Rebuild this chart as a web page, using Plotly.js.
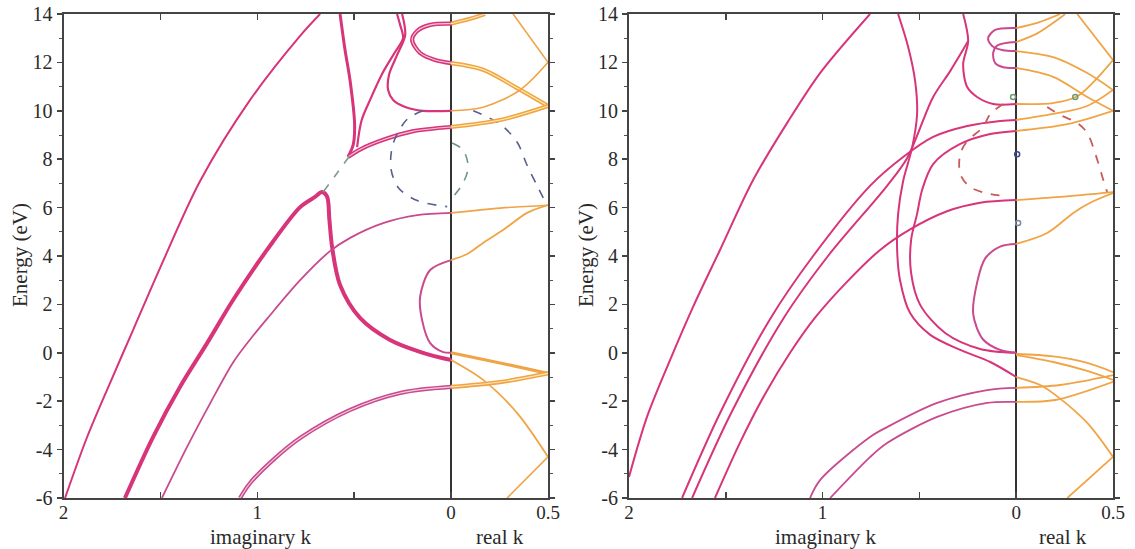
<!DOCTYPE html>
<html><head><meta charset="utf-8">
<script src="https://cdn.plot.ly/plotly-3.0.1.min.js"></script>
<style>html,body{margin:0;padding:0;background:#fff}#chart{width:1135px;height:549px}</style>
</head><body><div id="chart"></div>
<script>
// ---------- tick labels ----------
const xTickVals = [-2,-1.5,-1,-0.5,0,0.5];
const xTickText = ['2','','1','','0','0.5'];
const yTickVals = [-6,-4,-2,0,2,4,6,8,10,12,14];
const yTickText = ['-6','-4','-2','0','2','4','6','8','10','12','14'];

// ---------- left panel: imaginary k (negative = imaginary) ----------
const A_outer_k = [-1.992,-1.879,-1.760,-1.641,-1.502,-1.295,-1.037,-0.779,-0.676];
const A_outer_E = [-6,-3.5,-1.25,0.94,3.5,7.1,10.45,13.1,14];
const A_thick_k = [-1.683,-1.538,-1.399,-1.259,-1.125,-0.950,-0.779,-0.702,-0.666,-0.640,-0.628,-0.614,-0.573,-0.470,-0.315,-0.145,0];
const A_thick_E = [-6,-3.48,-1.41,0.40,2.18,4.25,6.02,6.44,6.64,6.45,5.5,4.37,2.80,1.44,0.53,0.0,-0.30];
const A_thin_k = [-1.492,-1.363,-1.244,-1.125,-1.037,-0.950,-0.779,-0.625,-0.521,-0.351,-0.175,0];
const A_thin_E = [-6,-3.9,-2.1,-0.4,0.55,1.4,3.0,4.2,4.75,5.36,5.69,5.78];
const A_low_k = [-1.089,-1.037,-0.908,-0.779,-0.521,-0.263,0];
const A_low_E = [-6,-5.38,-4.35,-3.52,-2.36,-1.66,-1.41];
const A_loop_k = [0,-0.108,-0.160,-0.150,-0.108,-0.041,0];
const A_loop_E = [3.83,3.42,2.31,1.36,0.40,0.03,0];
const A_arm_k = [-0.573,-0.547,-0.521,-0.498,-0.505,-0.532];
const A_arm_E = [14,12.5,11.23,9.45,8.6,8.09];
const A_flat_k = [-0.532,-0.47,-0.35,-0.2,0];
const A_flat_E = [8.09,8.4,8.8,9.15,9.33];
const A_c_k = [-0.485,-0.462,-0.418,-0.351,-0.289,-0.248,-0.263,-0.279];
const A_c_E = [8.5,9.6,10.45,11.6,12.43,13.0,13.55,14];
const A_d_k = [-0.253,-0.237,-0.279,-0.320,-0.325,-0.299,-0.237,-0.145,0];
const A_d_E = [14,13.13,12.3,11.5,10.86,10.45,10.16,10.0,10.0];
const A_eloop_k = [0,-0.108,-0.175,-0.201,-0.160,-0.083,0];
const A_eloop_E = [13.6,13.55,13.3,12.93,12.39,12.1,11.97];
// dashed
const A_g1_k = [-0.661,-0.588,-0.521];
const A_g1_E = [6.64,7.43,8.17];
const A_b1_k = [-0.145,-0.227,-0.299,-0.31,-0.27,-0.175,-0.02];
const A_b1_E = [10.0,9.65,8.65,7.6,6.8,6.29,6.04];
const A_b2_k = [0.114,0.253,0.341,0.392,0.444,0.485];
const A_b2_E = [10.0,9.45,8.7,7.75,6.9,6.25];
const A_g2_k = [0.005,0.062,0.088,0.062,0.01];
const A_g2_E = [8.67,8.38,7.68,7.02,6.44];
// orange (real k)
const A_oa_k = [0,0.098,0.175];          const A_oa_E = [13.6,13.8,14];
const A_ob_k = [0.32,0.5];               const A_ob_E = [14,12.0];
const A_oc_k = [0,0.165,0.341,0.5];      const A_oc_E = [11.97,11.7,10.94,10.2];
const A_od_k = [0,0.165,0.356,0.5];      const A_od_E = [10.0,10.15,10.86,12.0];
const A_oe_k = [0,0.253,0.5];            const A_oe_E = [9.33,9.62,10.2];
const A_of_k = [0,0.253,0.5];            const A_of_E = [5.78,5.98,6.1];
const A_og_k = [0,0.083,0.165,0.268,0.392,0.5]; const A_og_E = [3.83,4.08,4.54,5.07,5.78,6.1];
const A_oh_k = [0,0.253,0.5];            const A_oh_E = [0,-0.42,-0.85];
const A_oi_k = [0,0.165,0.341,0.5];      const A_oi_E = [-0.3,-1.12,-2.49,-4.3];
const A_oj_k = [0,0.253,0.5];            const A_oj_E = [-1.41,-1.21,-0.85];
const A_ok_k = [0.289,0.5];              const A_ok_E = [-6,-4.3];

// ---------- right panel ----------
const B_outer_k = [-2.0,-1.907,-1.788,-1.669,-1.530,-1.359,-1.183,-1.013,-0.755];
const B_outer_E = [-5.13,-2.65,-0.3,1.9,4.25,7.14,9.5,11.56,14];
const B_r2_k = [-1.726,-1.530,-1.271,-1.049,-0.755,-0.584,-0.429,-0.253,-0.083,0];
const B_r2_E = [-6,-2.5,1.4,4.0,6.9,8.09,8.92,9.37,9.58,9.62];
const B_r3_k = [-1.674,-1.473,-1.204,-0.972,-0.667,-0.563,-0.429,-0.341,-0.248];
const B_r3_E = [-6,-2.5,1.4,4.0,6.9,8.05,10.57,11.64,12.88];
const B_rd_k = [-0.274,-0.248,-0.274,-0.253,-0.202,-0.119,0];
const B_rd_E = [14,12.88,11.93,10.98,10.57,10.28,10.28];
const B_ra_k = [-0.610,-0.558,-0.522,-0.512,-0.537,-0.584,-0.610,-0.615,-0.600,-0.548,-0.444,-0.289,-0.134,0];
const B_ra_E = [14,12.64,11.23,9.87,8.5,7.1,5.74,4.25,3.0,1.64,0.74,0.12,-0.38,-1.0];
const B_rb_k = [0,-0.134,-0.289,-0.429,-0.486,-0.512,-0.543,-0.543,-0.496,-0.367,-0.186,0];
const B_rb_E = [9.17,9.04,8.63,7.8,6.73,5.74,4.66,3.3,1.98,0.82,0.16,0.0];
const B_r4_k = [-1.556,-1.426,-1.297,-1.168,-1.039,-0.884,-0.703,-0.548,-0.357,-0.186,0];
const B_r4_E = [-6,-3.7,-1.7,0.0,1.45,2.85,4.25,5.1,5.85,6.2,6.31];
const B_r6_k = [-1.065,-1.013,-0.755,-0.667,-0.408,-0.150,0];
const B_r6_E = [-6,-5.26,-3.48,-3.07,-2.07,-1.54,-1.45];
const B_r7_k = [-0.961,-0.755,-0.667,-0.408,-0.150,0];
const B_r7_E = [-6,-4.31,-3.73,-2.65,-2.07,-2.03];
const B_loop_k = [0,-0.08,-0.160,-0.202,-0.222,-0.171,-0.083,0];
const B_loop_E = [4.5,4.4,3.9,2.9,1.6,0.55,0.12,0.0];
const B_l1_k = [0,-0.109,-0.145,-0.124,-0.067,0];
const B_l1_E = [13.42,13.34,13.0,12.68,12.5,12.47];
const B_l2_k = [0,-0.098,-0.119,-0.109,-0.067,0];
const B_l2_E = [12.84,12.7,12.39,11.98,11.8,11.77];
const B_red1_k = [-0.067,-0.134,-0.171,-0.253,-0.289,-0.289,-0.238,-0.134,-0.047];
const B_red1_E = [10.28,9.87,9.33,8.75,8.21,7.39,6.85,6.56,6.48];
const B_red2_k = [0.160,0.227,0.315,0.367,0.419,0.450,0.470];
const B_red2_E = [10.16,9.83,9.5,9.08,7.97,7.14,6.64];
// orange
const B_oa_k = [0,0.109,0.227];          const B_oa_E = [13.42,13.63,14];
const B_ob_k = [0,0.109,0.212,0.253];    const B_ob_E = [12.84,13.2,13.75,14];
const B_oc_k = [0.315,0.5];              const B_oc_E = [14,12.1];
const B_od_k = [0,0.191,0.367,0.5];      const B_od_E = [12.47,12.22,11.56,10.86];
const B_oe_k = [0,0.191,0.367,0.5];      const B_oe_E = [11.77,11.4,10.57,10.0];
const B_of_k = [0,0.191,0.315,0.5];      const B_of_E = [10.28,10.32,10.6,12.1];
const B_og_k = [0,0.191,0.367,0.5];      const B_og_E = [9.62,9.87,10.2,10.86];
const B_oh_k = [0,0.264,0.5];            const B_oh_E = [9.17,9.45,10.0];
const B_oi_k = [0,0.227,0.5];            const B_oi_E = [6.31,6.44,6.64];
const B_oj_k = [0,0.160,0.295,0.382,0.5]; const B_oj_E = [4.5,4.95,5.78,6.2,6.6];
const B_ok_k = [0,0.191,0.367,0.5];      const B_ok_E = [-0.05,-0.15,-0.42,-0.8];
const B_ol_k = [0,0.191,0.367,0.5];      const B_ol_E = [-0.1,-0.38,-0.75,-1.12];
const B_om_k = [0,0.124,0.217,0.367,0.5]; const B_om_E = [-1.0,-1.33,-1.83,-2.9,-4.3];
const B_on_k = [0,0.227,0.5];            const B_on_E = [-1.45,-1.33,-0.92];
const B_oo_k = [0,0.202,0.5];            const B_oo_E = [-2.03,-1.95,-1.2];
const B_op_k = [0.264,0.5];              const B_op_E = [-6,-4.3];
// small markers (right panel)
const B_mark_k = [-0.016,0.005,0.01,0.305];
const B_mark_E = [10.57,8.2,5.36,10.57];

// ---------- styling ----------
const PINK = '#d8347a', PINK2 = '#c94a8e', ORANGE = '#f0a445';
const traces = [];
function add(k, E, p, color, width, dash) {
  traces.push({x:k, y:E, xaxis:p===2?'x2':'x', yaxis:p===2?'y2':'y', mode:'lines',
    line:{color:color, width:width, dash:dash||'solid', shape:'spline', smoothing:0.9},
    hoverinfo:'skip', showlegend:false});
}
function dbl(k, E, p, color, inner) {
  add(k, E, p, color, 4.2);
  add(k, E, p, inner, 1.1);
}
// left panel
add(A_outer_k, A_outer_E, 1, PINK, 2);
add(A_thick_k, A_thick_E, 1, PINK, 4);
add(A_thin_k, A_thin_E, 1, PINK2, 1.8);
dbl(A_low_k, A_low_E, 1, PINK2, '#f6d0e2');
add(A_loop_k, A_loop_E, 1, PINK2, 2);
add(A_arm_k, A_arm_E, 1, PINK, 3);
dbl(A_flat_k, A_flat_E, 1, PINK, '#f6c8dc');
add(A_c_k, A_c_E, 1, PINK, 2.2);
add(A_d_k, A_d_E, 1, PINK, 2.2);
dbl(A_eloop_k, A_eloop_E, 1, PINK, '#f6c8dc');
add(A_g1_k, A_g1_E, 1, '#7f9a86', 1.6, 'dash');
add(A_b1_k, A_b1_E, 1, '#56608e', 1.6, 'dash');
add(A_b2_k, A_b2_E, 1, '#56608e', 1.6, 'dash');
add(A_g2_k, A_g2_E, 1, '#6f9480', 1.6, 'dash');
dbl(A_oa_k, A_oa_E, 1, ORANGE, '#fde6b8');
add(A_ob_k, A_ob_E, 1, ORANGE, 1.6);
dbl(A_oc_k, A_oc_E, 1, ORANGE, '#fdf0b0');
add(A_od_k, A_od_E, 1, ORANGE, 1.6);
dbl(A_oe_k, A_oe_E, 1, ORANGE, '#fdf0b0');
add(A_of_k, A_of_E, 1, ORANGE, 1.6);
add(A_og_k, A_og_E, 1, ORANGE, 1.8);
add(A_oh_k, A_oh_E, 1, ORANGE, 3.2);
add(A_oi_k, A_oi_E, 1, ORANGE, 1.8);
dbl(A_oj_k, A_oj_E, 1, ORANGE, '#fde6b8');
add(A_ok_k, A_ok_E, 1, ORANGE, 1.6);
// right panel
add(B_outer_k, B_outer_E, 2, PINK, 2);
add(B_r2_k, B_r2_E, 2, PINK, 2);
add(B_r3_k, B_r3_E, 2, PINK, 2);
add(B_rd_k, B_rd_E, 2, PINK, 2);
add(B_ra_k, B_ra_E, 2, PINK, 2);
add(B_rb_k, B_rb_E, 2, PINK, 2);
add(B_r4_k, B_r4_E, 2, PINK, 2);
add(B_r6_k, B_r6_E, 2, PINK2, 1.8);
add(B_r7_k, B_r7_E, 2, PINK2, 1.8);
add(B_loop_k, B_loop_E, 2, PINK2, 2);
add(B_l1_k, B_l1_E, 2, PINK2, 2);
add(B_l2_k, B_l2_E, 2, PINK2, 2);
add(B_red1_k, B_red1_E, 2, '#c85a5a', 1.8, 'dash');
add(B_red2_k, B_red2_E, 2, '#c85a5a', 1.8, 'dash');
[[B_oa_k,B_oa_E],[B_ob_k,B_ob_E],[B_oc_k,B_oc_E],[B_od_k,B_od_E],[B_oe_k,B_oe_E],
 [B_of_k,B_of_E],[B_og_k,B_og_E],[B_oh_k,B_oh_E],[B_oi_k,B_oi_E],[B_oj_k,B_oj_E],
 [B_ok_k,B_ok_E],[B_ol_k,B_ol_E],[B_om_k,B_om_E],[B_on_k,B_on_E],[B_oo_k,B_oo_E],
 [B_op_k,B_op_E]].forEach(function(c){ add(c[0], c[1], 2, ORANGE, 1.8); });
traces.push({x:B_mark_k, y:B_mark_E, xaxis:'x2', yaxis:'y2', mode:'markers',
  marker:{symbol:'circle-open', size:5, color:['#6e9a6e','#3a4a8a','#7a8aa0','#6e9a6e'], line:{width:1.5}},
  hoverinfo:'skip', showlegend:false});

const TF = {family:'Liberation Serif, Times New Roman, serif', size:19, color:'#2a2a2a'};
function xax(dom) {
  return {domain:dom, range:[-2,0.5], tickmode:'array', tickvals:xTickVals, ticktext:xTickText,
    ticks:'inside', ticklen:6, tickwidth:1.5, tickcolor:'#444', mirror:'ticks', showline:true,
    linecolor:'#444', linewidth:2, showgrid:false, zeroline:true, zerolinecolor:'#333',
    zerolinewidth:1.5, tickfont:TF, ticklabelstandoff:-4, fixedrange:true};
}
function yax(anchor) {
  return {domain:[1-498/549, 1-14/549], range:[-6,14], anchor:anchor, tickmode:'array',
    tickvals:yTickVals, ticktext:yTickText, ticks:'outside', ticklen:5, tickwidth:1.5,
    tickcolor:'#444', mirror:'ticks', showline:true, linecolor:'#444', linewidth:2,
    showgrid:false, zeroline:false, tickfont:Object.assign({}, TF, {size:20}),
    minor:{tickmode:'linear', tick0:-6, dtick:1, ticks:'outside', ticklen:3, tickcolor:'#555', tickwidth:1},
    fixedrange:true};
}
const AF = {family:'Liberation Serif, Times New Roman, serif', size:21, color:'#2a2a2a'};
const layout = {
  width:1135, height:549, margin:{l:0,r:0,t:0,b:0}, paper_bgcolor:'#fff', plot_bgcolor:'#fff',
  showlegend:false,
  xaxis: Object.assign(xax([63.5/1135, 548/1135]), {anchor:'y'}),
  yaxis: yax('x'),
  xaxis2: Object.assign(xax([629/1135, 1113/1135]), {anchor:'y2'}),
  yaxis2: yax('x2'),
  annotations:[
    {text:'Energy (eV)', xref:'paper', yref:'paper', x:20/1135, y:1-255/549, textangle:-90, showarrow:false, font:AF, xanchor:'center', yanchor:'middle'},
    {text:'Energy (eV)', xref:'paper', yref:'paper', x:586/1135, y:1-255/549, textangle:-90, showarrow:false, font:AF, xanchor:'center', yanchor:'middle'},
    {text:'imaginary k', xref:'paper', yref:'paper', x:260/1135, y:1-537/549, showarrow:false, font:AF, xanchor:'center', yanchor:'middle'},
    {text:'real k', xref:'paper', yref:'paper', x:500/1135, y:1-537/549, showarrow:false, font:AF, xanchor:'center', yanchor:'middle'},
    {text:'imaginary k', xref:'paper', yref:'paper', x:825/1135, y:1-537/549, showarrow:false, font:AF, xanchor:'center', yanchor:'middle'},
    {text:'real k', xref:'paper', yref:'paper', x:1063/1135, y:1-537/549, showarrow:false, font:AF, xanchor:'center', yanchor:'middle'}
  ]
};
Plotly.newPlot('chart', traces, layout, {staticPlot:true, displayModeBar:false});
</script></body></html>
